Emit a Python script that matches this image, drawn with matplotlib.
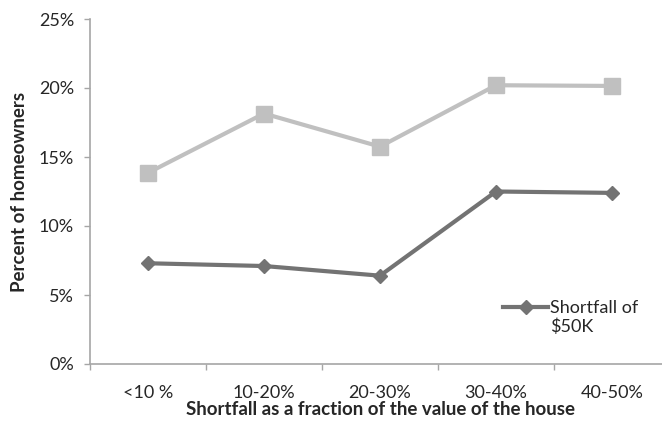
import matplotlib.pyplot as plt
import matplotlib.ticker as mticker
from matplotlib.legend_handler import HandlerLine2D
import numpy as np

plt.rcParams['font.family'] = ['Lato', 'DejaVu Sans']

categories = ['<10 %', '10-20%', '20-30%', '30-40%', '40-50%']
share_light = [13.85, 18.15, 15.75, 20.2, 20.15]      # upper series, square markers
shortfall_50k = [7.3, 7.1, 6.4, 12.5, 12.4]           # lower series, diamond markers
y_ticks = [0, 5, 10, 15, 20, 25]

text_col = '#262626'
axis_col = '#a6a6a6'


class FirstLineHandler(HandlerLine2D):
    # put the legend key beside the first line of a two-line label
    def create_artists(self, legend, orig_handle, xdescent, ydescent,
                       width, height, fontsize, trans):
        return super().create_artists(legend, orig_handle, xdescent,
                                      ydescent - 1.2 * fontsize, width, height,
                                      fontsize, trans)


fig = plt.figure(figsize=(6.62, 4.21), dpi=100)
# axes run a little past the right border of the figure
ax = fig.add_axes([90 / 662, 57 / 421, 580 / 662, 345 / 421])

x = np.arange(len(categories))
ax.plot(x, share_light, color='#c0c0c0', lw=3, marker='s', ms=11,
        solid_joinstyle='miter')
line_50k, = ax.plot(x, shortfall_50k, color='#737373', lw=3, marker='D', ms=7.5,
                    label='Shortfall of\n$50K', solid_joinstyle='miter')

ax.set_xlim(-0.5, len(categories) - 0.5)
ax.set_ylim(0, 25)

# category labels in the middle, tick marks on the boundaries
ax.set_xticks(x)
ax.set_xticklabels(categories)
ax.set_xticks(np.arange(len(categories) + 1) - 0.5, minor=True)
ax.tick_params(axis='x', which='major', length=0, pad=15, labelsize=13,
               labelcolor=text_col)
ax.tick_params(axis='x', which='minor', length=4.5, width=1, color=axis_col)

ax.set_yticks(y_ticks)
ax.yaxis.set_major_formatter(mticker.FuncFormatter(lambda v, p: '%d%%' % v))
ax.tick_params(axis='y', length=4.5, width=1, color=axis_col, pad=7,
               labelsize=13, labelcolor=text_col)

for side in ['top', 'right']:
    ax.spines[side].set_visible(False)
for side in ['left', 'bottom']:
    ax.spines[side].set_color(axis_col)
    ax.spines[side].set_linewidth(1.2)

ax.set_xlabel('Shortfall as a fraction of the value of the house',
              fontsize=13.5, fontweight='bold', color=text_col, labelpad=0)
ax.set_ylabel('Percent of homeowners', fontsize=13.5, fontweight='bold',
              color=text_col, labelpad=8)

leg = ax.legend(handler_map={line_50k: FirstLineHandler()},
                loc='upper left', bbox_to_anchor=((503 - 90) / 580, (364 - 300) / 345),
                frameon=False, fontsize=13, handlelength=2.5, handletextpad=0.1,
                borderaxespad=0, borderpad=0)
for t in leg.get_texts():
    t.set_color(text_col)

plt.savefig('out.png', dpi=100)
